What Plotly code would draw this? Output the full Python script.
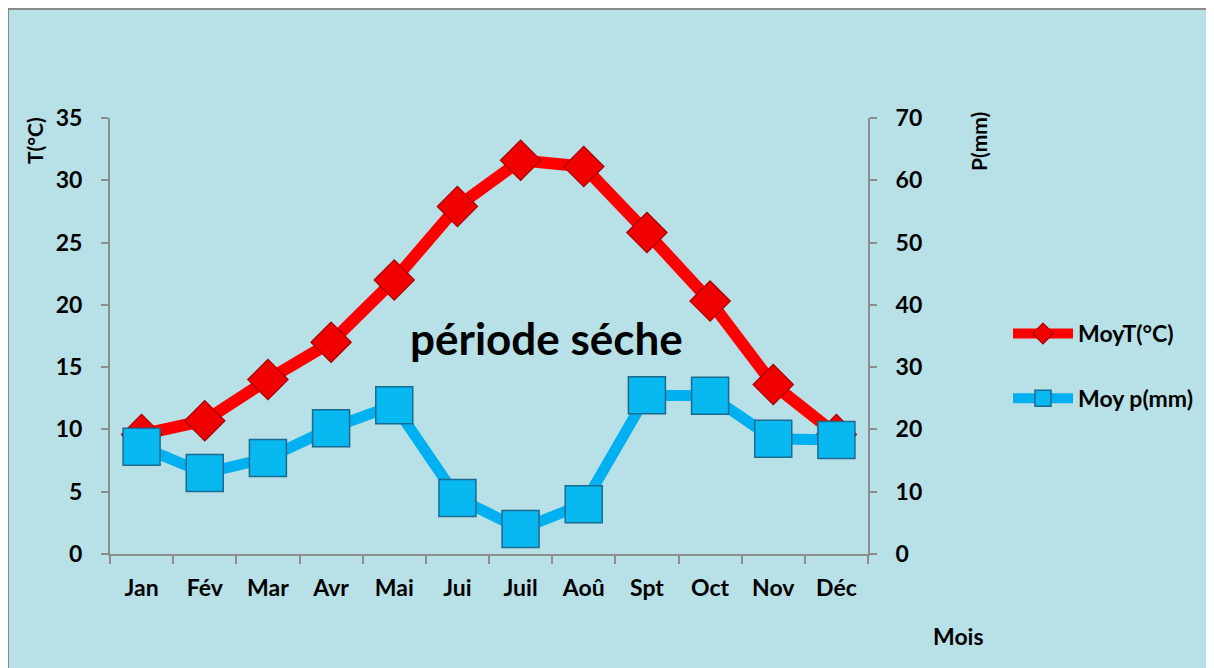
import plotly.graph_objects as go

mois = ["Jan", "Fév", "Mar", "Avr", "Mai", "Jui", "Juil", "Aoû", "Spt", "Oct", "Nov", "Déc"]
temp = [9.6, 10.7, 14.0, 17.0, 22.0, 27.9, 31.6, 31.1, 25.8, 20.3, 13.6, 9.6]
precip = [17.2, 13.0, 15.4, 20.2, 23.9, 9.0, 4.0, 8.0, 25.5, 25.4, 18.5, 18.3]

W, H = 1214, 668
OFF = 8  # page body margin
L, R, T, B = 110 - OFF, W - (868 - OFF), 118 - OFF, H - (554 - OFF)
pw, ph = W - L - R, H - T - B


# helpers: page pixel -> paper coords
def px_x(x):
    return (x - OFF - L) / pw


def px_y(y):
    return (H - B - (y - OFF)) / ph


font = "Lato"
axis_col = "#8c8c8c"

fig = go.Figure()

fig.add_trace(go.Scatter(
    x=mois, y=temp, name="MoyT(°C)", mode="lines+markers",
    line=dict(color="#FF0000", width=12),
    marker=dict(symbol="diamond", size=31, color="#F00000",
                line=dict(color="#A80000", width=1.2)),
    legendgroup="t",
))
fig.add_trace(go.Scatter(
    x=mois, y=precip, name="Moy p(mm)", mode="lines+markers", yaxis="y2",
    line=dict(color="#00B0F0", width=11),
    marker=dict(symbol="square", size=37, color="#08B8F0",
                line=dict(color="#1B6A90", width=1.5)),
    legendgroup="p",
))

tick_font = dict(family=font, size=23, color="black", weight="bold")


def label(text, x, y, size, angle=0):
    return dict(text=text, xref="paper", yref="paper", x=px_x(x), y=px_y(y),
                xanchor="center", yanchor="middle", textangle=angle, showarrow=False,
                font=dict(family=font, size=size, color="black", weight="bold"))


fig.update_layout(
    width=W, height=H,
    margin=dict(l=L, r=R, t=T, b=B),
    paper_bgcolor="white",
    plot_bgcolor="rgba(0,0,0,0)",
    showlegend=True,
    legend=dict(
        x=px_x(1008), y=px_y(312), xanchor="left", yanchor="top",
        font=dict(family=font, size=23, color="black", weight="bold"),
        itemwidth=60, tracegroupgap=32, traceorder="grouped",
        bgcolor="rgba(0,0,0,0)",
    ),
    xaxis=dict(
        range=[-0.5, 11.5],
        showgrid=False, zeroline=False, showline=True, linecolor=axis_col, linewidth=2,
        ticks="outside", tickson="boundaries", ticklen=8, tickcolor=axis_col, tickwidth=2,
        tickfont=tick_font, ticklabelstandoff=12,
    ),
    yaxis=dict(
        range=[0, 35], dtick=5, showgrid=False, zeroline=False,
        showline=True, linecolor=axis_col, linewidth=2,
        ticks="outside", ticklen=7, tickcolor=axis_col, tickwidth=2,
        tickfont=tick_font, ticklabelstandoff=14,
    ),
    yaxis2=dict(
        range=[0, 70], dtick=10, overlaying="y", side="right", showgrid=False, zeroline=False,
        showline=True, linecolor=axis_col, linewidth=2,
        ticks="outside", ticklen=7, tickcolor=axis_col, tickwidth=2,
        tickfont=tick_font, ticklabelstandoff=14,
    ),
    shapes=[dict(
        type="rect", xref="paper", yref="paper", layer="below",
        x0=px_x(8), x1=px_x(W + 20), y0=px_y(H + 20), y1=px_y(9),
        fillcolor="#B8E0E7", line=dict(color="#8a8a8a", width=2),
    )],
    annotations=[
        label("période séche", 546, 338, 44),
        label("T(°C)", 35, 141, 21, -90),
        label("P(mm)", 979, 141, 21, -90),
        label("Mois", 958, 636, 23),
    ],
)

fig.write_html("out.html")
